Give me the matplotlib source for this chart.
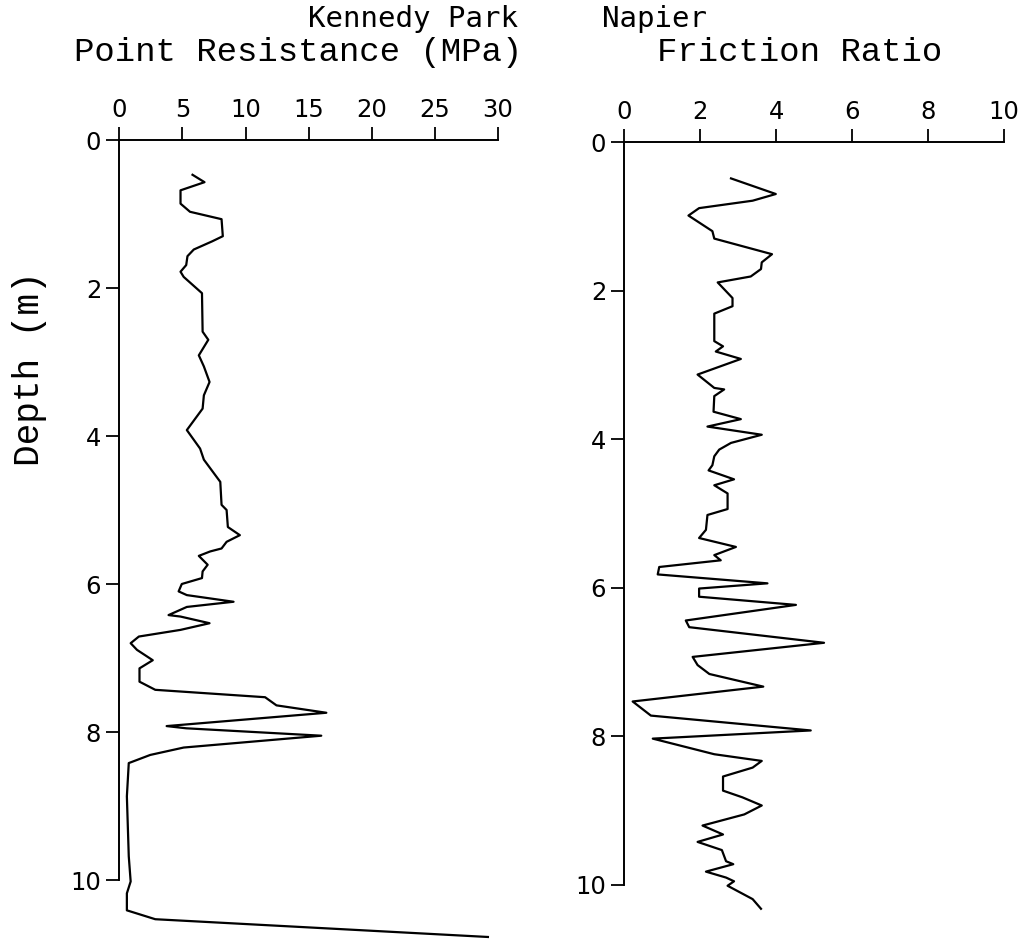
import matplotlib
matplotlib.use("Agg")
import matplotlib.pyplot as plt

# Cone penetration test, Kennedy Park, Napier
qc_depth = [0.47, 0.57, 0.68, 0.86, 0.97, 1.07, 1.30, 1.37, 1.48, 1.57, 1.69, 1.78, 1.85,
            2.07, 2.59, 2.70, 2.91, 3.06, 3.27, 3.45, 3.63, 3.92, 4.17, 4.32, 4.62, 4.93,
            5.00, 5.23, 5.34, 5.43, 5.52, 5.56, 5.62, 5.74, 5.83, 5.92, 6.00, 6.10, 6.15,
            6.24, 6.31, 6.42, 6.44, 6.53, 6.62, 6.71, 6.80, 6.89, 7.03, 7.14, 7.32, 7.43,
            7.53, 7.64, 7.74, 7.92, 7.95, 8.05, 8.21, 8.31, 8.42, 8.87, 9.68, 10.02, 10.18,
            10.41, 10.53, 10.77]
qc_mpa = [5.8, 6.75, 4.85, 4.85, 5.6, 8.1, 8.2, 7.35, 5.9, 5.4, 5.3, 4.85, 5.1,
          6.55, 6.6, 7.05, 6.3, 6.7, 7.15, 6.7, 6.6, 5.35, 6.4, 6.7, 8.0, 8.1,
          8.5, 8.6, 9.55, 8.5, 8.1, 7.2, 6.3, 7.0, 6.6, 6.55, 4.95, 4.7, 5.35,
          9.05, 5.35, 3.9, 4.85, 7.15, 4.85, 1.55, 0.9, 1.4, 2.65, 1.6, 1.6, 2.85,
          11.55, 12.45, 16.4, 3.75, 5.3, 16.0, 5.1, 2.45, 0.75, 0.6, 0.75, 0.9, 0.6,
          0.6, 2.85, 29.2]

fr_depth = [0.49, 0.70, 0.79, 0.89, 0.99, 1.20, 1.30, 1.51, 1.62, 1.71, 1.81, 1.89, 2.10,
            2.21, 2.31, 2.68, 2.75, 2.82, 2.92, 3.13, 3.31, 3.33, 3.42, 3.63, 3.73, 3.83,
            3.94, 4.05, 4.14, 4.23, 4.35, 4.42, 4.54, 4.62, 4.73, 4.94, 5.02, 5.22, 5.33,
            5.45, 5.56, 5.63, 5.72, 5.82, 5.94, 6.01, 6.12, 6.23, 6.44, 6.53, 6.74, 6.93,
            7.04, 7.16, 7.33, 7.53, 7.72, 7.92, 8.03, 8.24, 8.33, 8.42, 8.54, 8.73, 8.82,
            8.93, 9.05, 9.20, 9.32, 9.42, 9.53, 9.68, 9.72, 9.82, 9.90, 9.95, 10.01, 10.19,
            10.32]
fr_ratio = [2.81, 3.99, 3.38, 1.97, 1.69, 2.32, 2.37, 3.89, 3.62, 3.60, 3.33, 2.46, 2.85,
            2.85, 2.37, 2.37, 2.60, 2.41, 3.07, 1.93, 2.37, 2.63, 2.37, 2.35, 3.07, 2.19,
            3.62, 2.81, 2.50, 2.37, 2.32, 2.22, 2.89, 2.37, 2.72, 2.72, 2.19, 2.15, 1.97,
            2.94, 2.37, 2.54, 0.92, 0.88, 3.77, 1.97, 1.97, 4.52, 1.62, 1.71, 5.26, 1.80,
            1.93, 2.24, 3.66, 0.22, 0.70, 4.91, 0.75, 2.37, 3.62, 3.38, 2.60, 2.60, 3.11,
            3.62, 3.16, 2.06, 2.60, 1.93, 2.57, 2.68, 2.87, 2.15, 2.68, 2.89, 2.72, 3.38,
            3.60]

depth_ticks = [0, 2, 4, 6, 8, 10]
qc_ticks = [0, 5, 10, 15, 20, 25, 30]
fr_ticks = [0, 2, 4, 6, 8, 10]

W, H = 1025, 940
fig = plt.figure(figsize=(W / 100, H / 100), dpi=100)

ax1 = fig.add_axes([119.3 / W, 1 - 880 / H, 378.7 / W, 740 / H])
ax2 = fig.add_axes([624.3 / W, 1 - 885 / H, 379.7 / W, 743 / H])


def style(ax, xticks):
    ax.set_ylim(10, 0)
    ax.set_xlim(xticks[0], xticks[-1])
    ax.set_xticks(xticks)
    ax.set_yticks(depth_ticks)
    ax.xaxis.tick_top()
    for s in ["bottom", "right"]:
        ax.spines[s].set_visible(False)
    for s in ["top", "left"]:
        ax.spines[s].set_linewidth(1.4)
    ax.tick_params(direction="out", length=9.5, width=1.3, labelsize=17.5, pad=3.5)
    for lab in ax.get_xticklabels() + ax.get_yticklabels():
        lab.set_family("DejaVu Sans")


style(ax1, qc_ticks)
style(ax2, fr_ticks)

ax1.plot(qc_mpa, qc_depth, color="black", lw=1.6, clip_on=False)
ax2.plot(fr_ratio, fr_depth, color="black", lw=1.6, clip_on=False)

# headings
fig.text(413 / W, 1 - 27 / H, "Kennedy Park", family="DejaVu Sans Mono", fontsize=21,
         ha="center", va="baseline")
fig.text(655 / W, 1 - 27 / H, "Napier", family="DejaVu Sans Mono", fontsize=21,
         ha="center", va="baseline")
fig.text(298 / W, 1 - 61 / H, "Point Resistance (MPa)", family="Liberation Mono",
         fontsize=24.5, ha="center", va="baseline")
fig.text(800 / W, 1 - 61 / H, "Friction Ratio", family="Liberation Mono",
         fontsize=24.5, ha="center", va="baseline")
fig.text(30 / W, 1 - 369 / H, "Depth (m)", family="Liberation Mono", fontsize=26,
         rotation=90, ha="center", va="center")

fig.savefig("out.png", dpi=100)
